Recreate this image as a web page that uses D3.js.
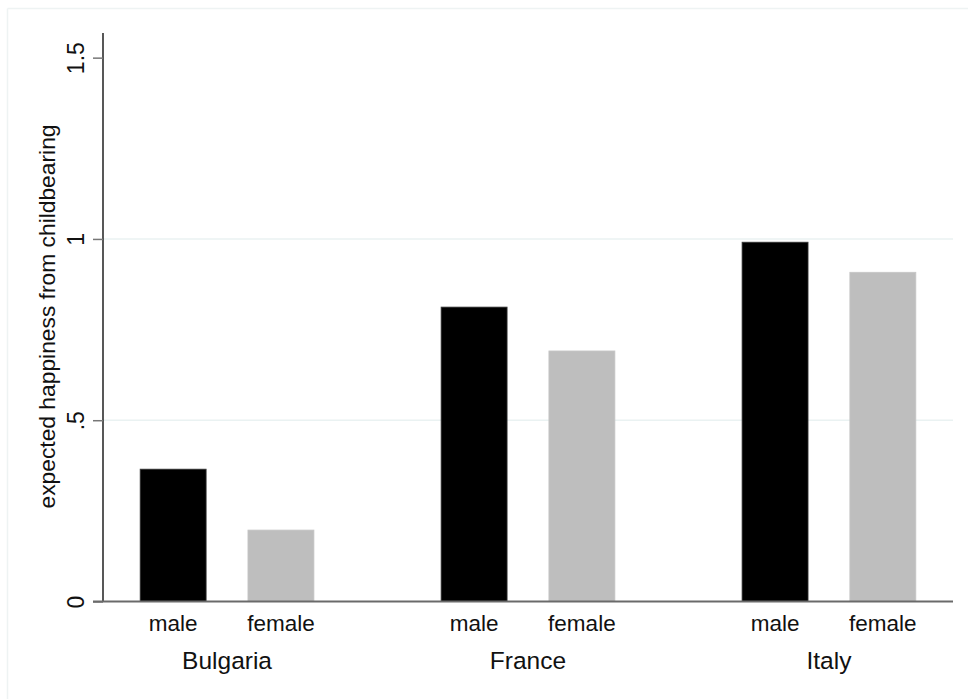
<!DOCTYPE html>
<html>
<head>
<meta charset="utf-8">
<script src="https://cdn.jsdelivr.net/npm/d3@7"></script>
<style>
  html, body { margin: 0; padding: 0; background: #fff; }
  svg { display: block; }
  text { font-family: "Liberation Sans", Arial, Helvetica, sans-serif; fill: #111; }
</style>
</head>
<body>
<svg id="chart" width="968" height="699"></svg>
<script>
// Expected happiness from childbearing, by country and sex
const countries = ["Bulgaria", "France", "Italy"];
const sexes = ["male", "female"];
const maleValues = [0.365, 0.812, 0.991];
const femaleValues = [0.197, 0.691, 0.908];
const yTickValues = [0, 0.5, 1, 1.5];
const yTickLabels = ["0", ".5", "1", "1.5"];
const yTitle = "expected happiness from childbearing";

const barColors = { male: "#000000", female: "#bebebe" };

const rows = countries.flatMap((c, i) => [
  { country: c, sex: "male", value: maleValues[i] },
  { country: c, sex: "female", value: femaleValues[i] }
]);

const svg = d3.select("#chart");

// plot region
const plotLeft = 103, plotRight = 953;
const yBottom = 601.5, yTop = 33;

const y = d3.scaleLinear().domain([0, 1.568]).range([yBottom, yTop]);

const x0 = d3.scaleBand()
  .domain(countries)
  .range([plotLeft, plotRight])
  .paddingInner(0.2837)
  .paddingOuter(0.054);

const x1 = d3.scaleBand()
  .domain(sexes)
  .range([0, x0.bandwidth()])
  .paddingInner(0.388)
  .paddingOuter(0.194);

// faint outer frame (top and left edges)
svg.append("line").attr("x1", 7.5).attr("x2", 968).attr("y1", 8.5).attr("y2", 8.5)
  .attr("stroke", "#eef3f3").attr("stroke-width", 1.5);
svg.append("line").attr("x1", 7.5).attr("x2", 7.5).attr("y1", 8.5).attr("y2", 699)
  .attr("stroke", "#eef3f3").attr("stroke-width", 1.5);

// horizontal gridlines
svg.append("g")
  .selectAll("line")
  .data([0.5, 1])
  .join("line")
  .attr("x1", plotLeft)
  .attr("x2", plotRight)
  .attr("y1", d => y(d))
  .attr("y2", d => y(d))
  .attr("stroke", "#eaf2f2")
  .attr("stroke-width", 1.5);

// bars
svg.append("g")
  .selectAll("rect")
  .data(rows)
  .join("rect")
  .attr("x", d => x0(d.country) + x1(d.sex))
  .attr("width", x1.bandwidth())
  .attr("y", d => y(d.value))
  .attr("height", d => y(0) - y(d.value))
  .attr("fill", d => barColors[d.sex])
  .attr("stroke", d => d.sex === "male" ? "#3a3a3a" : "#c6c6c6")
  .attr("stroke-width", 0.8);

// y axis
const yAxis = d3.axisLeft(y)
  .tickValues(yTickValues)
  .tickFormat((d, i) => yTickLabels[i])
  .tickSize(10)
  .tickPadding(0);

const gy = svg.append("g")
  .attr("transform", `translate(${plotLeft},0)`)
  .call(yAxis);

gy.select(".domain")
  .attr("d", `M0,${yBottom}V${yTop}`)
  .attr("stroke", "#111")
  .attr("stroke-width", 1.4);
gy.selectAll(".tick line")
  .attr("stroke", "#777")
  .attr("stroke-width", 1.5);
gy.selectAll(".tick text")
  .attr("x", 0)
  .attr("dy", 0)
  .attr("transform", "translate(-19,0) rotate(-90)")
  .attr("text-anchor", "middle")
  .style("font-size", "23px")
  .style("font-family", '"Liberation Sans", Arial, sans-serif')
  .attr("fill", "#111");

// x baseline
svg.append("line")
  .attr("x1", plotLeft - 10)
  .attr("x2", plotRight)
  .attr("y1", y(0))
  .attr("y2", y(0))
  .attr("stroke", "#6a6a6a")
  .attr("stroke-width", 2);

// sex labels under each bar
svg.append("g")
  .selectAll("text")
  .data(rows)
  .join("text")
  .attr("x", d => x0(d.country) + x1(d.sex) + x1.bandwidth() / 2)
  .attr("y", 631)
  .attr("text-anchor", "middle")
  .style("font-size", "22.5px")
  .text(d => d.sex);

// country labels
svg.append("g")
  .selectAll("text")
  .data(countries)
  .join("text")
  .attr("x", d => x0(d) + x0.bandwidth() / 2)
  .attr("y", 669)
  .attr("text-anchor", "middle")
  .style("font-size", "24.5px")
  .text(d => d);

// y axis title
svg.append("text")
  .attr("transform", `translate(55,${(123 + 510) / 2}) rotate(-90)`)
  .attr("text-anchor", "middle")
  .style("font-size", "22.8px")
  .text(yTitle);
</script>
</body>
</html>
